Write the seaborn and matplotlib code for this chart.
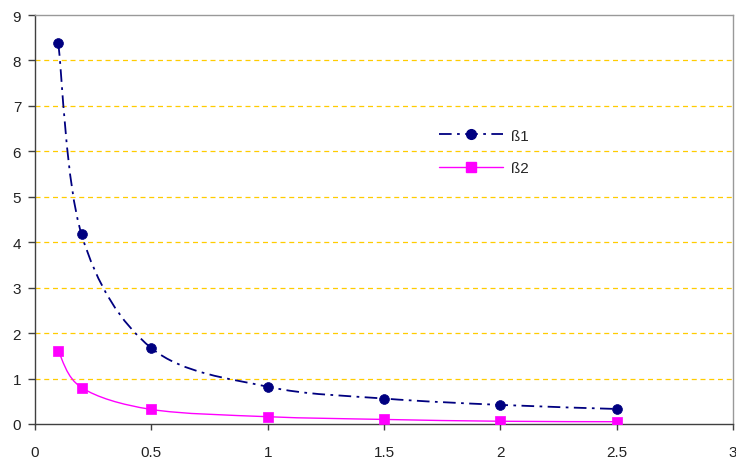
import matplotlib
matplotlib.use("Agg")
import matplotlib.pyplot as plt
import numpy as np
import pandas as pd
import seaborn as sns
from matplotlib.lines import Line2D
from matplotlib.patches import PathPatch
from matplotlib.path import Path

# values
x_vals = [0.1, 0.2, 0.5, 1.0, 1.5, 2.0, 2.5]
beta1 = [8.38, 4.17, 1.67, 0.82, 0.56, 0.42, 0.33]
beta2 = [1.60, 0.80, 0.32, 0.16, 0.10, 0.06, 0.05]
series_names = ["ß1", "ß2"]
x_ticks = [0, 0.5, 1, 1.5, 2, 2.5, 3]
y_ticks = list(range(0, 10))

NAVY = "#000080"
MAGENTA = "#FF00FF"
GRID = "#FFCC00"


def smooth_path(xs, ys):
    # excel-like smoothed line: catmull-rom converted to cubic bezier
    pts = np.column_stack([xs, ys])
    ext = np.vstack([pts[0], pts, pts[-1]])
    verts = [pts[0]]
    codes = [Path.MOVETO]
    for i in range(1, len(ext) - 2):
        p0, p1, p2, p3 = ext[i - 1], ext[i], ext[i + 1], ext[i + 2]
        c1 = p1 + (p2 - p0) / 6.0
        c2 = p2 - (p3 - p1) / 6.0
        verts += [c1, c2, p2]
        codes += [Path.CURVE4] * 3
    return Path(verts, codes)


df = pd.DataFrame(
    {
        "x": x_vals * 2,
        "y": beta1 + beta2,
        "series": [series_names[0]] * len(x_vals) + [series_names[1]] * len(x_vals),
    }
)

sns.set_style("white")
plt.rcParams["font.family"] = ["Liberation Sans", "DejaVu Sans"]

fig = plt.figure(figsize=(7.36, 4.64), dpi=100)
ax = fig.add_axes([0.0476, 0.0841, 0.9483, 0.8814])

ax.set_xlim(0, 3)
ax.set_ylim(0, 9)

for yv in y_ticks[1:-1]:
    ax.axhline(yv, color=GRID, lw=0.9, ls=(0, (4, 3)), zorder=1)

ax.add_patch(
    PathPatch(
        smooth_path(x_vals, beta1),
        fill=False,
        edgecolor=NAVY,
        lw=1.3,
        ls=(0, (7, 3, 1.5, 3)),
        zorder=2,
    )
)
ax.add_patch(
    PathPatch(
        smooth_path(x_vals, beta2),
        fill=False,
        edgecolor=MAGENTA,
        lw=1.0,
        zorder=2,
    )
)

sns.scatterplot(
    data=df[df["series"] == series_names[0]],
    x="x",
    y="y",
    marker="o",
    s=50,
    color=NAVY,
    edgecolor=NAVY,
    linewidth=0.5,
    ax=ax,
    zorder=3,
    legend=False,
)
sns.scatterplot(
    data=df[df["series"] == series_names[1]],
    x="x",
    y="y",
    marker="s",
    s=55,
    color=MAGENTA,
    edgecolor=MAGENTA,
    linewidth=0.5,
    ax=ax,
    zorder=3,
    legend=False,
)

ax.set_xticks(x_ticks)
ax.set_xticklabels([f"{t:g}" for t in x_ticks])
ax.set_yticks(y_ticks)
ax.set_xlabel("")
ax.set_ylabel("")

for side in ["left", "bottom"]:
    ax.spines[side].set_color("#404040")
    ax.spines[side].set_linewidth(1.0)
for side in ["top", "right"]:
    ax.spines[side].set_color("#999999")
    ax.spines[side].set_linewidth(1.0)

ax.tick_params(
    axis="both",
    direction="out",
    width=1,
    color="#404040",
    labelsize=11,
    labelcolor="#222222",
    left=True,
    bottom=True,
)
ax.tick_params(axis="x", length=4, pad=11)
ax.tick_params(axis="y", length=5, pad=5)

handles = [
    Line2D([], [], color=NAVY, lw=1.3, ls=(0, (7, 3, 1.5, 3)), marker="o", markersize=7),
    Line2D([], [], color=MAGENTA, lw=1.0, marker="s", markersize=7),
]
fig.legend(
    handles,
    series_names,
    loc="upper left",
    bbox_to_anchor=(0.578, 0.75),
    frameon=False,
    handlelength=4.2,
    handletextpad=0.5,
    labelspacing=1.2,
    fontsize=11,
)

fig.savefig("out.png", dpi=100)
